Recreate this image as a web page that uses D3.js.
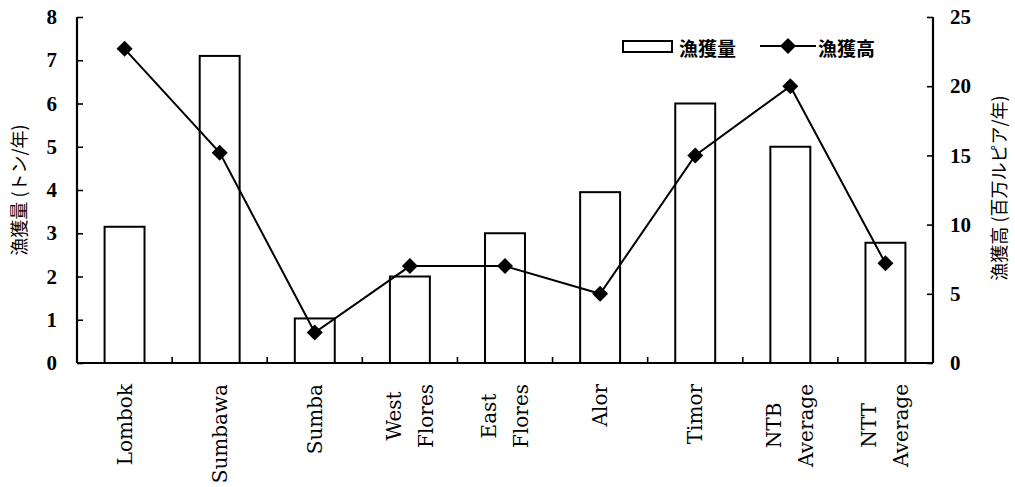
<!DOCTYPE html>
<html>
<head>
<meta charset="utf-8">
<script src="https://cdn.jsdelivr.net/npm/d3@7"></script>
<style>
  html, body { margin: 0; padding: 0; background: #fff; }
  svg { display: block; }
  .serif { font-family: "Liberation Serif", "Times New Roman", serif; }
  .wide-serif { font-family: "DejaVu Serif", "Liberation Serif", serif; }
  .cjk { font-family: "Noto Sans CJK JP", "Noto Sans CJK SC", sans-serif; }
</style>
</head>
<body>
<svg id="chart" width="1015" height="487"></svg>
<script>
// Regions (each entry may hold several label lines)
const categories = [
  ["Lombok"], ["Sumbawa"], ["Sumba"], ["West", "Flores"], ["East", "Flores"],
  ["Alor"], ["Timor"], ["NTB", "Average"], ["NTT", "Average"]
];
// Catch volume (tons / year), left axis
const catchVolume = [3.15, 7.1, 1.03, 2.0, 3.0, 3.95, 6.0, 5.0, 2.78];
// Catch value (million rupiah / year), right axis
const catchValue = [22.7, 15.2, 2.2, 7.0, 7.0, 5.0, 15.0, 20.0, 7.2];
const leftTicks = [0, 1, 2, 3, 4, 5, 6, 7, 8];
const rightTicks = [0, 5, 10, 15, 20, 25];
const legendLabels = ["漁獲量", "漁獲高"];
const leftTitle = "漁獲量 (トン/年)";
const rightTitle = "漁獲高 (百万ルピア/年)";

const svg = d3.select("#chart");
const plot = { left: 77, right: 933, top: 17, bottom: 363 };

const x = d3.scaleBand()
  .domain(d3.range(categories.length))
  .range([plot.left, plot.right])
  .paddingInner(0).paddingOuter(0);
const yL = d3.scaleLinear().domain([0, 8]).range([plot.bottom, plot.top]);
const yR = d3.scaleLinear().domain([0, 25]).range([plot.bottom, plot.top]);

const barW = x.bandwidth() * 0.42;

// Bars: catch volume
svg.append("g").selectAll("rect")
  .data(catchVolume)
  .join("rect")
  .attr("x", (d, i) => x(i) + (x.bandwidth() - barW) / 2)
  .attr("y", d => yL(d))
  .attr("width", barW)
  .attr("height", d => yL(0) - yL(d))
  .attr("fill", "#fff")
  .attr("stroke", "#000")
  .attr("stroke-width", 2);

// Left axis
const axisL = svg.append("g")
  .attr("transform", `translate(${plot.left},0)`)
  .call(d3.axisLeft(yL).tickValues(leftTicks).tickSize(-6).tickPadding(20).tickFormat(d3.format("d")));
// Right axis
const axisR = svg.append("g")
  .attr("transform", `translate(${plot.right},0)`)
  .call(d3.axisRight(yR).tickValues(rightTicks).tickSize(-6).tickPadding(17).tickFormat(d3.format("d")));

[axisL, axisR].forEach(g => {
  g.attr("font-family", null).attr("font-size", null);
  g.select(".domain").attr("stroke", "#000").attr("stroke-width", 2.2)
    .attr("d", `M0,${plot.top}V${plot.bottom}`);
  g.selectAll(".tick line").attr("stroke", "#000").attr("stroke-width", 1.6);
  g.selectAll(".tick text")
    .attr("class", "serif")
    .style("font-size", "21px").style("font-weight", "bold")
    .attr("fill", "#000");
});

// Bottom axis: baseline with ticks between categories
const boundaries = d3.range(categories.length + 1).map(i => plot.left + i * x.bandwidth());
svg.append("line")
  .attr("x1", plot.left).attr("x2", plot.right)
  .attr("y1", plot.bottom).attr("y2", plot.bottom)
  .attr("stroke", "#000").attr("stroke-width", 2.2);
svg.append("g").selectAll("line")
  .data(boundaries.slice(1, -1))
  .join("line")
  .attr("x1", d => d).attr("x2", d => d)
  .attr("y1", plot.bottom).attr("y2", plot.bottom - 6)
  .attr("stroke", "#000").attr("stroke-width", 1.6);

// Category labels, rotated, lines centred on each other
const labelTop = 384;
categories.forEach((lines, i) => {
  const cx = x(i) + x.bandwidth() / 2;
  const g = svg.append("g");
  const texts = lines.map(t => g.append("text")
    .text(t)
    .attr("class", "wide-serif")
    .style("font-size", "20px")
    .attr("fill", "#000")
    .attr("text-anchor", "middle")
    .attr("dominant-baseline", "central"));
  const maxLen = d3.max(texts, t => t.node().getComputedTextLength());
  const n = lines.length;
  texts.forEach((t, j) => {
    const lx = cx + (j - (n - 1) / 2) * 32;
    const ly = labelTop + maxLen / 2;
    t.attr("transform", `translate(${lx},${ly}) rotate(-90)`);
  });
});

// Line: catch value
const line = d3.line()
  .x((d, i) => x(i) + x.bandwidth() / 2)
  .y(d => yR(d));
svg.append("path")
  .datum(catchValue)
  .attr("d", line)
  .attr("fill", "none")
  .attr("stroke", "#000")
  .attr("stroke-width", 2);

const diamond = r => `M0,${-r}L${r},0L0,${r}L${-r},0Z`;
svg.append("g").selectAll("path")
  .data(catchValue)
  .join("path")
  .attr("d", diamond(8))
  .attr("transform", (d, i) => `translate(${x(i) + x.bandwidth() / 2},${yR(d)})`)
  .attr("fill", "#000");

// Axis titles
svg.append("text")
  .text(leftTitle)
  .attr("class", "cjk")
  .attr("transform", `translate(18,${(plot.top + plot.bottom) / 2}) rotate(-90)`)
  .attr("text-anchor", "middle").attr("dominant-baseline", "central")
  .style("font-size", "18px").attr("fill", "#000");
svg.append("text")
  .text(rightTitle)
  .attr("class", "cjk")
  .attr("transform", `translate(998,188) rotate(-90)`)
  .attr("text-anchor", "middle").attr("dominant-baseline", "central")
  .style("font-size", "18px").attr("fill", "#000");

// Legend
const lg = svg.append("g");
lg.append("rect")
  .attr("x", 623).attr("y", 41).attr("width", 49).attr("height", 11)
  .attr("fill", "#fff").attr("stroke", "#000").attr("stroke-width", 2);
lg.append("text").text(legendLabels[0])
  .attr("class", "cjk")
  .attr("x", 679).attr("y", 47).attr("dominant-baseline", "central")
  .style("font-size", "19px").style("font-weight", "bold").attr("fill", "#000");
lg.append("line")
  .attr("x1", 760).attr("x2", 816).attr("y1", 46).attr("y2", 46)
  .attr("stroke", "#000").attr("stroke-width", 2);
lg.append("path").attr("d", diamond(8))
  .attr("transform", "translate(788,46)").attr("fill", "#000");
lg.append("text").text(legendLabels[1])
  .attr("class", "cjk")
  .attr("x", 818).attr("y", 47).attr("dominant-baseline", "central")
  .style("font-size", "19px").style("font-weight", "bold").attr("fill", "#000");
</script>
</body>
</html>
